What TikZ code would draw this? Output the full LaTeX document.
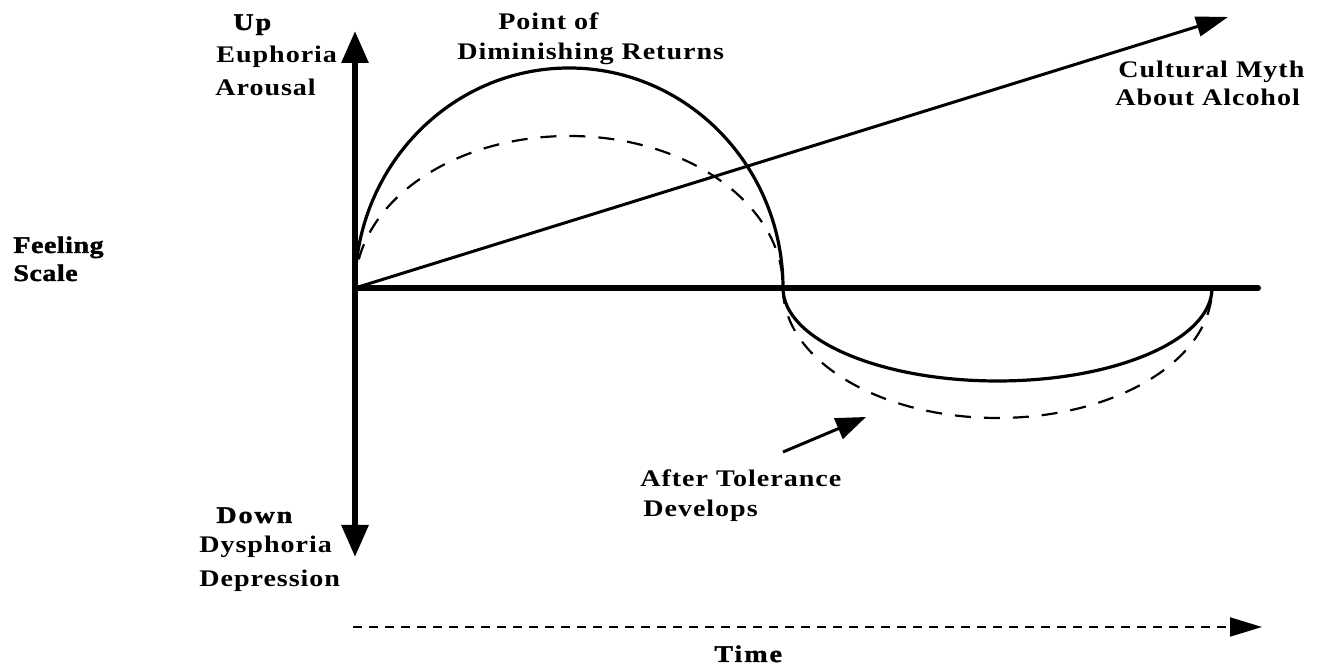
\documentclass[tikz,border=0pt]{standalone}
\usepackage{fontspec}
\setmainfont{Liberation Serif}[FakeStretch=1.18,LetterSpace=4]
\newfontfamily\heavyfont{Liberation Serif}[FakeStretch=1.18,LetterSpace=2,FakeBold=1.5]
\newfontfamily\widefont{Liberation Serif}[FakeStretch=1.18,LetterSpace=8,FakeBold=1.5]
\usetikzlibrary{arrows.meta}
\begin{document}
\begin{tikzpicture}[x=0.5pt,y=0.5pt,
  lab/.style={inner sep=0pt, anchor=base west, font=\fontsize{11.9}{14}\selectfont\bfseries},
  heavylab/.style={inner sep=0pt, anchor=base west, font=\heavyfont\fontsize{11.9}{14}\selectfont\bfseries},
  widelab/.style={inner sep=0pt, anchor=base west, font=\widefont\fontsize{11.9}{14}\selectfont\bfseries},
  axisline/.style={line width=3pt},
  curve/.style={line width=1.6pt},
  dcurve/.style={line width=1.1pt, dash pattern=on 8pt off 6.5pt},
  mythline/.style={line width=1.5pt, -{Triangle[length=16pt,width=10pt]}},
  timeline/.style={line width=1pt, dash pattern=on 4.5pt off 3.5pt, -{Triangle[length=16pt,width=9.5pt]}},
  tolarrow/.style={line width=1.5pt, -{Triangle[length=15pt,width=11pt]}}
]
\fill[white] (0,0) rectangle (1332,667);
\useasboundingbox (0,0) rectangle (1332,667);

\coordinate (O) at (355,379);
\coordinate (vtop) at (355,636);
\coordinate (vbot) at (355,110);
\coordinate (hend) at (1258,379);
\coordinate (mythtip) at (1228,650);
\coordinate (X) at (783,379);
\coordinate (tstart) at (353,40);
\coordinate (tend) at (1262,40);
\coordinate (tolfrom) at (783,215);
\coordinate (toltip) at (866,250);

\draw[mythline] (O) -- (mythtip);
\draw[curve] (O) arc[start angle=180,end angle=0,x radius=107pt,y radius=110pt];
\draw[dcurve] (O) arc[start angle=180,end angle=0,x radius=107pt,y radius=76pt];
\draw[curve] (X) arc[start angle=180,end angle=360,x radius=107.25pt,y radius=46.5pt];
\draw[dcurve] (X) arc[start angle=180,end angle=360,x radius=107.25pt,y radius=65pt];
\draw[axisline, line cap=round] (O) -- (hend);
\draw[axisline, {Triangle[length=16pt,width=13pt]}-{Triangle[length=16pt,width=13pt]}] (vbot) -- (vtop);
\draw[timeline] (tstart) -- (tend);
\draw[tolarrow] (tolfrom) -- (toltip);

\node[widelab] (up) at (233,637) {Up};
\node[lab] (euph) at (216,604) {Euphoria};
\node[lab] (arou) at (215,571) {Arousal};
\node[heavylab] (feel) at (13,414) {Feeling};
\node[heavylab] (scale) at (13,386) {Scale};
\node[widelab] (down) at (216,144) {Down};
\node[lab] (dysph) at (199,114) {Dysphoria};
\node[lab] (depr) at (199,80) {Depression};
\node[lab] (point) at (498,637) {Point of};
\node[lab] (dimin) at (457,607) {Diminishing Returns};
\node[lab] (cult) at (1118,589) {Cultural Myth};
\node[lab] (about) at (1115,561) {About Alcohol};
\node[lab] (after) at (640,180) {After Tolerance};
\node[lab] (devel) at (643,150) {Develops};
\node[widelab] (time) at (714,5) {Time};
\end{tikzpicture}
\end{document}
